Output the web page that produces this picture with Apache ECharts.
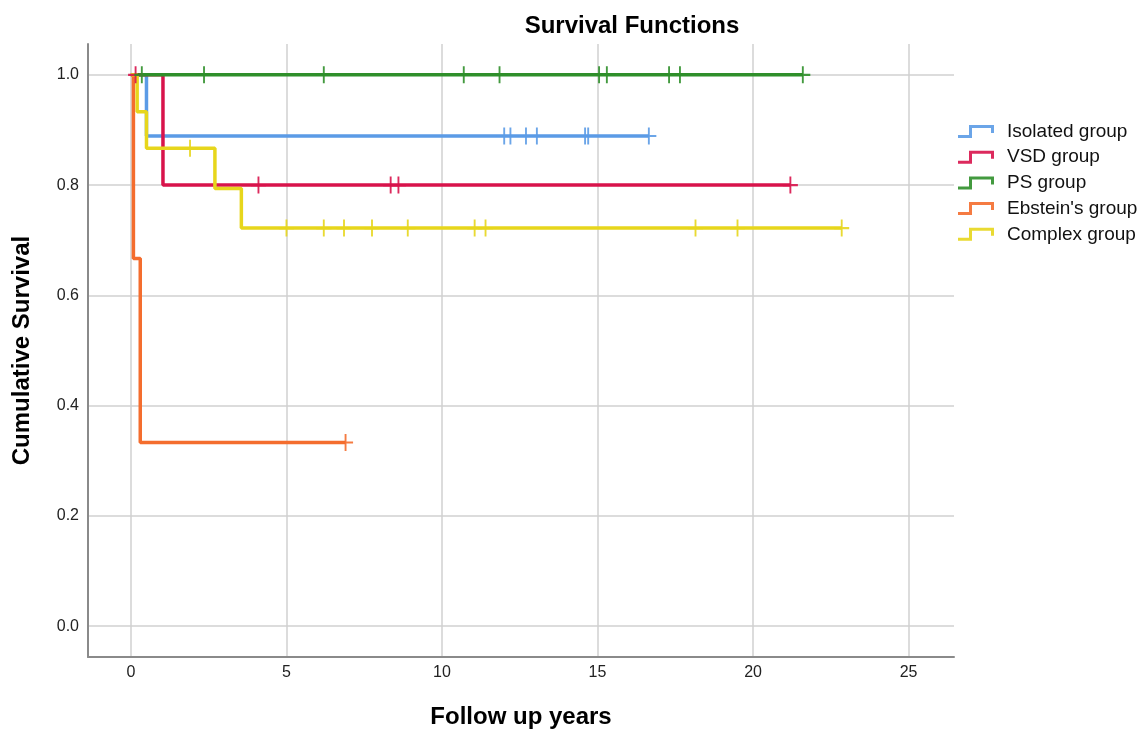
<!DOCTYPE html>
<html>
<head>
<meta charset="utf-8">
<script src="https://cdn.jsdelivr.net/npm/echarts@6/dist/echarts.min.js"></script>
<style>
html,body{margin:0;padding:0;background:#fff;}
#chart{width:1142px;height:731px;}
</style>
</head>
<body>
<div id="chart"></div>
<script>
// ---- Data ----
const groupNames = ["Isolated group", "VSD group", "PS group", "Ebstein's group", "Complex group"];

// Kaplan-Meier step points: event times and survival after each time
const isolatedTimes = [0, 0.5, 16.65];
const isolatedSurv  = [1.0, 0.889, 0.889];
const isolatedCensor = [12.0, 12.2, 12.7, 13.05, 14.6, 14.7, 16.65];

const vsdTimes = [0, 1.03, 21.2];
const vsdSurv  = [1.0, 0.8, 0.8];
const vsdCensor = [0.15, 4.1, 8.35, 8.6, 21.2];

const psTimes = [0, 21.6];
const psSurv  = [1.0, 1.0];
const psCensor = [0.35, 2.35, 6.2, 10.7, 11.85, 15.05, 15.3, 17.3, 17.65, 21.6];

const ebsteinTimes = [0, 0.08, 0.3, 6.9];
const ebsteinSurv  = [1.0, 0.667, 0.333, 0.333];
const ebsteinCensor = [6.9];

const complexTimes = [0, 0.2, 0.5, 2.7, 3.55, 22.85];
const complexSurv  = [1.0, 0.933, 0.867, 0.794, 0.722, 0.722];
const complexCensor = [1.9, 5.0, 6.2, 6.85, 7.75, 8.9, 11.05, 11.4, 18.15, 19.5, 22.85];

const xTickValues = [0, 5, 10, 15, 20, 25];
const yTickValues = [0, 0.2, 0.4, 0.6, 0.8, 1.0];

// ---- Build ----
const groupColors = ['#5b9be6', '#d8134b', '#2f8f2a', '#f46d2e', '#e7d61c'];
const groups = [
  [isolatedTimes, isolatedSurv, isolatedCensor],
  [vsdTimes, vsdSurv, vsdCensor],
  [psTimes, psSurv, psCensor],
  [ebsteinTimes, ebsteinSurv, ebsteinCensor],
  [complexTimes, complexSurv, complexCensor]
];

function survAt(times, surv, t) {
  let v = surv[0];
  for (let i = 0; i < times.length; i++) { if (times[i] <= t) v = surv[i]; }
  return v;
}

const crossSymbol = 'path://M0,7 H16 V9 H0 Z M7,0 H9 V16 H7 Z';
// step-shaped legend icon, with a tiny speck at the right to widen the box
const legendIcon = 'path://M0,10 H11 V0 H36 V8 H33 V3 H14 V13 H0 Z M43.9,6 H44 V6.1 H43.9 Z';

const series = [];
// censor marks first (legend icon comes from first series with the name)
groups.forEach((g, i) => {
  series.push({
    name: groupNames[i],
    type: 'scatter',
    z: 4,
    symbol: crossSymbol,
    symbolSize: [15, 17],
    itemStyle: { color: groupColors[i], opacity: 0.9 },
    silent: true,
    data: g[2].map(t => [t, survAt(g[0], g[1], t)])
  });
});
groups.forEach((g, i) => {
  series.push({
    name: groupNames[i],
    type: 'line',
    step: 'end',
    z: 3,
    showSymbol: false,
    symbol: 'none',
    lineStyle: { color: groupColors[i], width: 3.5 },
    itemStyle: { color: groupColors[i] },
    silent: true,
    data: g[0].map((t, k) => [t, g[1][k]])
  });
});

const chart = echarts.init(document.getElementById('chart'), null, { renderer: 'canvas' });
chart.setOption({
  animation: false,
  backgroundColor: '#ffffff',
  title: {
    text: 'Survival Functions',
    left: 627, top: 9,
    textAlign: 'center',
    textStyle: { fontFamily: 'Liberation Sans', fontSize: 24, fontWeight: 'bold', color: '#000' }
  },
  grid: { left: 88, right: 188, top: 44, bottom: 74, containLabel: false, outerBoundsMode: 'none' },
  legend: {
    orient: 'vertical',
    left: 953, top: 117,
    itemWidth: 44, itemHeight: 13, itemGap: 6.7,
    icon: legendIcon,
    data: groupNames,
    textStyle: { fontFamily: 'Liberation Sans', fontSize: 19, color: '#111' },
    selectedMode: false
  },
  xAxis: {
    type: 'value',
    min: -1.38, max: 26.46,
    name: 'Follow up years',
    nameLocation: 'middle',
    nameGap: 48,
    nameTextStyle: { fontFamily: 'Liberation Sans', fontSize: 24, fontWeight: 'bold', color: '#000' },
    axisLine: { show: true, onZero: false, lineStyle: { color: '#8a8a8a', width: 2 } },
    axisTick: { show: false, customValues: xTickValues },
    axisLabel: { customValues: xTickValues, margin: 8, fontFamily: 'Liberation Sans', fontSize: 16, color: '#222' },
    splitLine: { show: true, lineStyle: { color: '#d0d0d0', width: 1.5 } }
  },
  yAxis: {
    type: 'value',
    min: -0.056, max: 1.056,
    name: 'Cumulative Survival',
    nameLocation: 'middle',
    nameGap: 54,
    nameTextStyle: { fontFamily: 'Liberation Sans', fontSize: 24, fontWeight: 'bold', color: '#000' },
    axisLine: { show: true, onZero: false, lineStyle: { color: '#8a8a8a', width: 2 } },
    axisTick: { show: false, customValues: yTickValues },
    axisLabel: { customValues: yTickValues, margin: 9, fontFamily: 'Liberation Sans', fontSize: 16, color: '#222',
      formatter: v => Number(v).toFixed(1) },
    splitLine: { show: true, lineStyle: { color: '#d0d0d0', width: 1.5 } }
  },
  series: series
});
</script>
</body>
</html>
